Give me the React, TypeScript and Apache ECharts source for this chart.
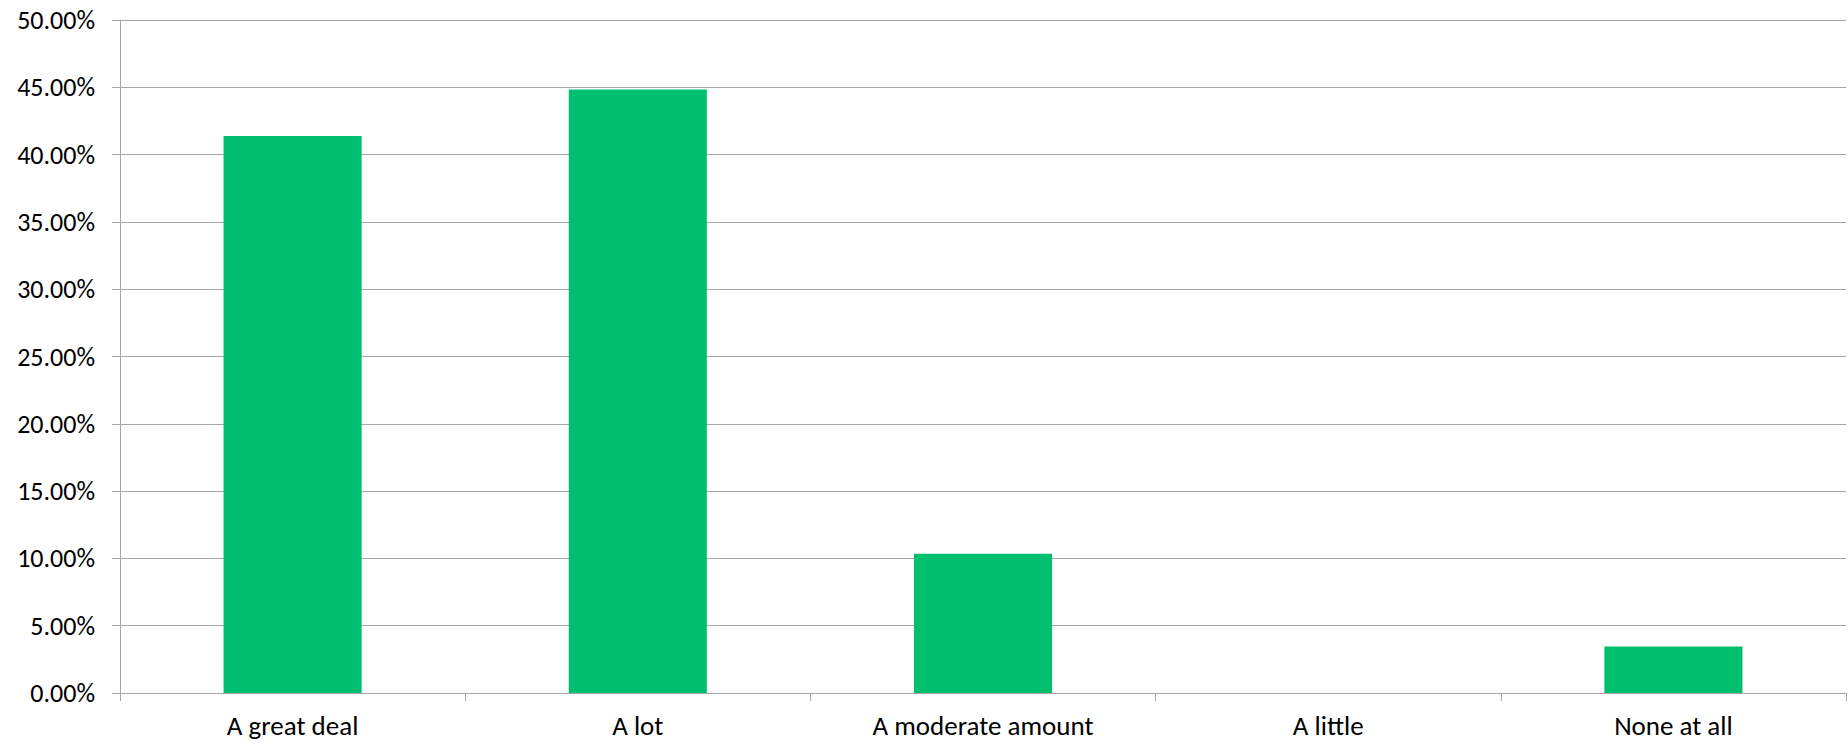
import React, { useEffect, useRef } from "react";
import * as echarts from "echarts";

const categories = ["A great deal", "A lot", "A moderate amount", "A little", "None at all"];
const values = [41.38, 44.83, 10.34, 0, 3.45];
const yTicks = { min: 0, max: 50, interval: 5 };

export default function App() {
  const ref = useRef<HTMLDivElement>(null);
  useEffect(() => {
    const chart = echarts.init(ref.current!, null, { renderer: "svg" });
    const font = "Calibri, Carlito, Lato, sans-serif";
    chart.setOption({
      animation: false,
      backgroundColor: "#ffffff",
      grid: { left: 120, right: 2, top: 20, bottom: 63, containLabel: false },
      xAxis: {
        type: "category",
        data: categories,
        axisLine: { lineStyle: { color: "#a6a6a6", width: 1 } },
        axisTick: { show: true, length: 8, inside: false, lineStyle: { color: "#a6a6a6" } },
        axisLabel: { color: "#000", fontSize: 27, fontFamily: font, margin: 19 },
        splitLine: { show: false },
      },
      yAxis: {
        type: "value",
        min: yTicks.min,
        max: yTicks.max,
        interval: yTicks.interval,
        axisLine: { show: true, lineStyle: { color: "#a6a6a6", width: 1 } },
        axisTick: { show: true, length: 8, lineStyle: { color: "#a6a6a6" } },
        axisLabel: {
          color: "#000",
          fontSize: 26,
          fontFamily: font,
          margin: 25,
          formatter: (v: number) => v.toFixed(2) + "%",
        },
        splitLine: { show: true, lineStyle: { color: "#a6a6a6", width: 1 } },
      },
      series: [
        {
          type: "bar",
          data: values,
          barWidth: "40%",
          itemStyle: { color: "#00bf6f" },
        },
      ],
    });
    return () => chart.dispose();
  }, []);
  return (
    <div
      ref={ref}
      style={{ position: "absolute", left: 0, top: 0, width: 1848, height: 756 }}
    />
  );
}
